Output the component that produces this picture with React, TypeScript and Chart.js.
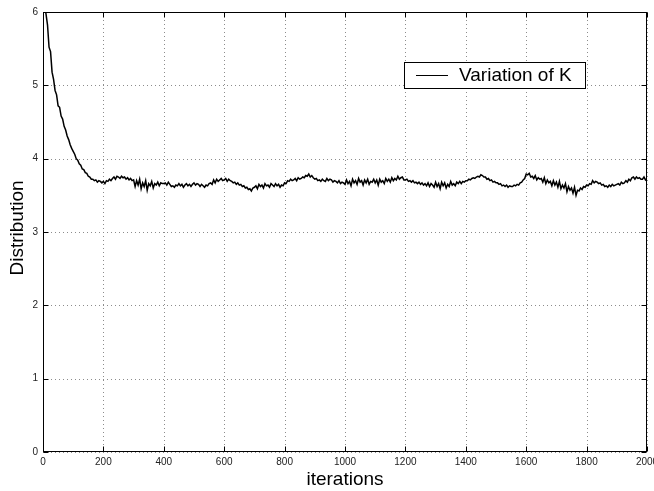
import React, { useEffect, useRef } from "react";
import { Chart, registerables } from "chart.js";

Chart.register(...registerables);

const STEP = 5;

const kValues: number[] = [
  // 0..95
  6.35, 6.10, 5.97, 5.82, 5.52, 5.46, 5.18, 5.08, 4.93, 4.87, 4.72, 4.70, 4.58, 4.54, 4.44, 4.39, 4.31, 4.26, 4.19, 4.14,
  // 100..195
  4.10, 4.06, 4.00, 3.98, 3.93, 3.91, 3.86, 3.85, 3.81, 3.80, 3.76, 3.75, 3.72, 3.72, 3.70, 3.71, 3.68, 3.70, 3.69, 3.67,
  // 200..295
  3.69, 3.66, 3.70, 3.69, 3.72, 3.70, 3.73, 3.75, 3.72, 3.76, 3.75, 3.73, 3.76, 3.74, 3.75, 3.72, 3.74, 3.71, 3.73, 3.70,
  // 300..395
  3.71, 3.62, 3.70, 3.64, 3.72, 3.59, 3.67, 3.62, 3.70, 3.57, 3.66, 3.63, 3.69, 3.60, 3.66, 3.64, 3.68, 3.63, 3.67, 3.66,
  // 400..495
  3.66, 3.67, 3.64, 3.68, 3.65, 3.62, 3.63, 3.61, 3.64, 3.63, 3.66, 3.63, 3.65, 3.61, 3.64, 3.66, 3.63, 3.65, 3.62, 3.65,
  // 500..595
  3.67, 3.64, 3.66, 3.65, 3.62, 3.65, 3.63, 3.61, 3.64, 3.63, 3.66, 3.67, 3.65, 3.71, 3.67, 3.72, 3.69, 3.71, 3.73, 3.70,
  // 600..695
  3.71, 3.73, 3.69, 3.72, 3.70, 3.69, 3.67, 3.68, 3.65, 3.67, 3.64, 3.65, 3.62, 3.63, 3.60, 3.61, 3.58, 3.59, 3.56, 3.60,
  // 700..795
  3.61, 3.63, 3.59, 3.65, 3.62, 3.64, 3.60, 3.66, 3.63, 3.64, 3.61, 3.66, 3.64, 3.62, 3.66, 3.63, 3.65, 3.61, 3.64, 3.63,
  // 800..895
  3.67, 3.66, 3.70, 3.69, 3.72, 3.70, 3.71, 3.73, 3.70, 3.74, 3.72, 3.73, 3.75, 3.74, 3.77, 3.76, 3.79, 3.75, 3.77, 3.74,
  // 900..995
  3.72, 3.73, 3.70, 3.71, 3.69, 3.72, 3.70, 3.69, 3.73, 3.70, 3.72, 3.71, 3.68, 3.70, 3.69, 3.67, 3.70, 3.66, 3.68, 3.67,
  // 1000..1095
  3.65, 3.71, 3.66, 3.69, 3.63, 3.72, 3.67, 3.70, 3.65, 3.73, 3.68, 3.70, 3.64, 3.71, 3.67, 3.72, 3.65, 3.69, 3.68, 3.72,
  // 1100..1195
  3.67, 3.71, 3.64, 3.72, 3.68, 3.70, 3.66, 3.73, 3.69, 3.72, 3.68, 3.74, 3.70, 3.73, 3.71, 3.76, 3.72, 3.74, 3.75, 3.71,
  // 1200..1295
  3.71, 3.72, 3.69, 3.70, 3.68, 3.70, 3.67, 3.68, 3.66, 3.68, 3.65, 3.67, 3.64, 3.66, 3.63, 3.67, 3.62, 3.66, 3.64, 3.61,
  // 1300..1395
  3.68, 3.62, 3.66, 3.59, 3.68, 3.63, 3.67, 3.60, 3.65, 3.62, 3.69, 3.64, 3.66, 3.63, 3.68, 3.66, 3.69, 3.66, 3.69, 3.68,
  // 1400..1495
  3.70, 3.70, 3.72, 3.71, 3.73, 3.74, 3.73, 3.75, 3.76, 3.75, 3.78, 3.77, 3.75, 3.75, 3.72, 3.73, 3.70, 3.71, 3.68, 3.69,
  // 1500..1595
  3.67, 3.67, 3.65, 3.66, 3.63, 3.64, 3.62, 3.64, 3.61, 3.63, 3.62, 3.62, 3.64, 3.63, 3.65, 3.64, 3.67, 3.68, 3.71, 3.73,
  // 1600..1695
  3.79, 3.78, 3.80, 3.75, 3.76, 3.73, 3.77, 3.71, 3.74, 3.72, 3.73, 3.68, 3.74, 3.66, 3.71, 3.67, 3.69, 3.63, 3.70, 3.64,
  // 1700..1795
  3.68, 3.61, 3.69, 3.59, 3.64, 3.60, 3.66, 3.55, 3.62, 3.57, 3.60, 3.53, 3.61, 3.50, 3.57, 3.56, 3.60, 3.58, 3.62, 3.61,
  // 1800..1895
  3.64, 3.63, 3.66, 3.65, 3.70, 3.67, 3.69, 3.68, 3.66, 3.67, 3.64, 3.65, 3.62, 3.63, 3.61, 3.64, 3.62, 3.65, 3.63, 3.64,
  // 1900..1995
  3.65, 3.66, 3.64, 3.68, 3.66, 3.67, 3.70, 3.68, 3.72, 3.70, 3.74, 3.75, 3.72, 3.75, 3.73, 3.74, 3.72, 3.72, 3.75, 3.71,
  // 2000
  3.73,
];

const xTicks = [0, 200, 400, 600, 800, 1000, 1200, 1400, 1600, 1800, 2000];
const yTicks = [0, 1, 2, 3, 4, 5, 6];

const seriesLabel = "Variation of K";
const xTitle = "iterations";
const yTitle = "Distribution";

const FONT = "'Liberation Sans', Arial, Helvetica, sans-serif";

const framePlugin = {
  id: "matlabFrame",
  beforeDatasetsDraw(chart: any) {
    const { ctx, chartArea: a, scales } = chart;
    ctx.save();
    ctx.strokeStyle = "#8c8c8c";
    ctx.lineWidth = 1;
    ctx.setLineDash([1, 3]);
    for (const t of xTicks) {
      const px = Math.round(scales.x.getPixelForValue(t)) + 0.5;
      ctx.beginPath();
      ctx.moveTo(px, a.top);
      ctx.lineTo(px, a.bottom);
      ctx.stroke();
    }
    for (const t of yTicks) {
      const py = Math.round(scales.y.getPixelForValue(t)) + 0.5;
      ctx.beginPath();
      ctx.moveTo(a.left, py);
      ctx.lineTo(a.right, py);
      ctx.stroke();
    }
    ctx.restore();
  },
  afterDatasetsDraw(chart: any) {
    const { ctx, chartArea: a, scales } = chart;
    ctx.save();
    ctx.setLineDash([]);
    ctx.strokeStyle = "#000";
    ctx.lineWidth = 1;
    const L = Math.round(a.left) + 0.5;
    const R = Math.round(a.right) - 0.5;
    const T = Math.round(a.top) + 0.5;
    const B = Math.round(a.bottom) - 0.5;
    ctx.strokeRect(L, T, R - L, B - T);
    const tk = 5;
    ctx.beginPath();
    for (const t of xTicks) {
      const px = Math.round(scales.x.getPixelForValue(t)) + 0.5;
      ctx.moveTo(px, B);
      ctx.lineTo(px, B - tk);
      ctx.moveTo(px, T);
      ctx.lineTo(px, T + tk);
    }
    for (const t of yTicks) {
      const py = Math.round(scales.y.getPixelForValue(t)) + 0.5;
      ctx.moveTo(L, py);
      ctx.lineTo(L + tk, py);
      ctx.moveTo(R, py);
      ctx.lineTo(R - tk, py);
    }
    ctx.stroke();

    // legend box
    const bx = 404, by = 62, bw = 181, bh = 26;
    ctx.fillStyle = "#fff";
    ctx.fillRect(bx, by, bw, bh);
    ctx.strokeRect(bx + 0.5, by + 0.5, bw, bh);
    ctx.beginPath();
    ctx.moveTo(416, by + 13.5);
    ctx.lineTo(448, by + 13.5);
    ctx.stroke();
    ctx.fillStyle = "#000";
    ctx.font = `19px ${FONT}`;
    ctx.textBaseline = "middle";
    ctx.textAlign = "left";
    ctx.fillText(seriesLabel, 459, by + 14);

    // axis titles
    ctx.font = `19px ${FONT}`;
    ctx.textAlign = "center";
    ctx.textBaseline = "alphabetic";
    ctx.fillText(xTitle, (a.left + a.right) / 2, 485);
    ctx.save();
    ctx.translate(23, (a.top + a.bottom) / 2 - 4);
    ctx.rotate(-Math.PI / 2);
    ctx.fillText(yTitle, 0, 0);
    ctx.restore();
    ctx.restore();
  },
};

export default function App() {
  const ref = useRef<HTMLCanvasElement | null>(null);

  useEffect(() => {
    document.body.style.margin = "0";
    const canvas = ref.current;
    if (!canvas) return;
    const points = kValues.map((v, i) => ({ x: i * STEP, y: v }));
    const chart = new Chart(canvas, {
      type: "line",
      data: {
        datasets: [
          {
            label: seriesLabel,
            data: points,
            borderColor: "#000",
            borderWidth: 1.5,
            pointRadius: 0,
            tension: 0,
            fill: false,
          },
        ],
      },
      options: {
        animation: false,
        responsive: false,
        maintainAspectRatio: false,
        devicePixelRatio: 1,
        layout: { padding: { top: 12, right: 7, left: 0, bottom: 0 } },
        plugins: {
          legend: { display: false },
          tooltip: { enabled: false },
          title: { display: false },
        },
        scales: {
          x: {
            type: "linear",
            min: 0,
            max: 2000,
            afterFit: (s: any) => {
              s.height = 39;
              s.paddingLeft = 0;
              s.paddingRight = 0;
            },
            afterBuildTicks: (s: any) => {
              s.ticks = xTicks.map((v) => ({ value: v }));
            },
            grid: { display: false, drawTicks: false },
            border: { display: false },
            ticks: {
              padding: 4,
              maxRotation: 0,
              autoSkip: false,
              color: "#222",
              font: { family: FONT, size: 10 },
              callback: (v: any) => String(v),
            },
          },
          y: {
            type: "linear",
            min: 0,
            max: 6,
            afterFit: (s: any) => {
              s.width = 43;
              s.paddingTop = 0;
              s.paddingBottom = 0;
            },
            afterBuildTicks: (s: any) => {
              s.ticks = yTicks.map((v) => ({ value: v }));
            },
            grid: { display: false, drawTicks: false },
            border: { display: false },
            ticks: {
              padding: 5,
              autoSkip: false,
              color: "#222",
              font: { family: FONT, size: 10 },
              callback: (v: any) => String(v),
            },
          },
        },
      },
      plugins: [framePlugin],
    });
    return () => chart.destroy();
  }, []);

  return (
    <div style={{ position: "absolute", left: 0, top: 0, width: 654, height: 491, background: "#fff" }}>
      <canvas ref={ref} width={654} height={491} style={{ display: "block" }} />
    </div>
  );
}
